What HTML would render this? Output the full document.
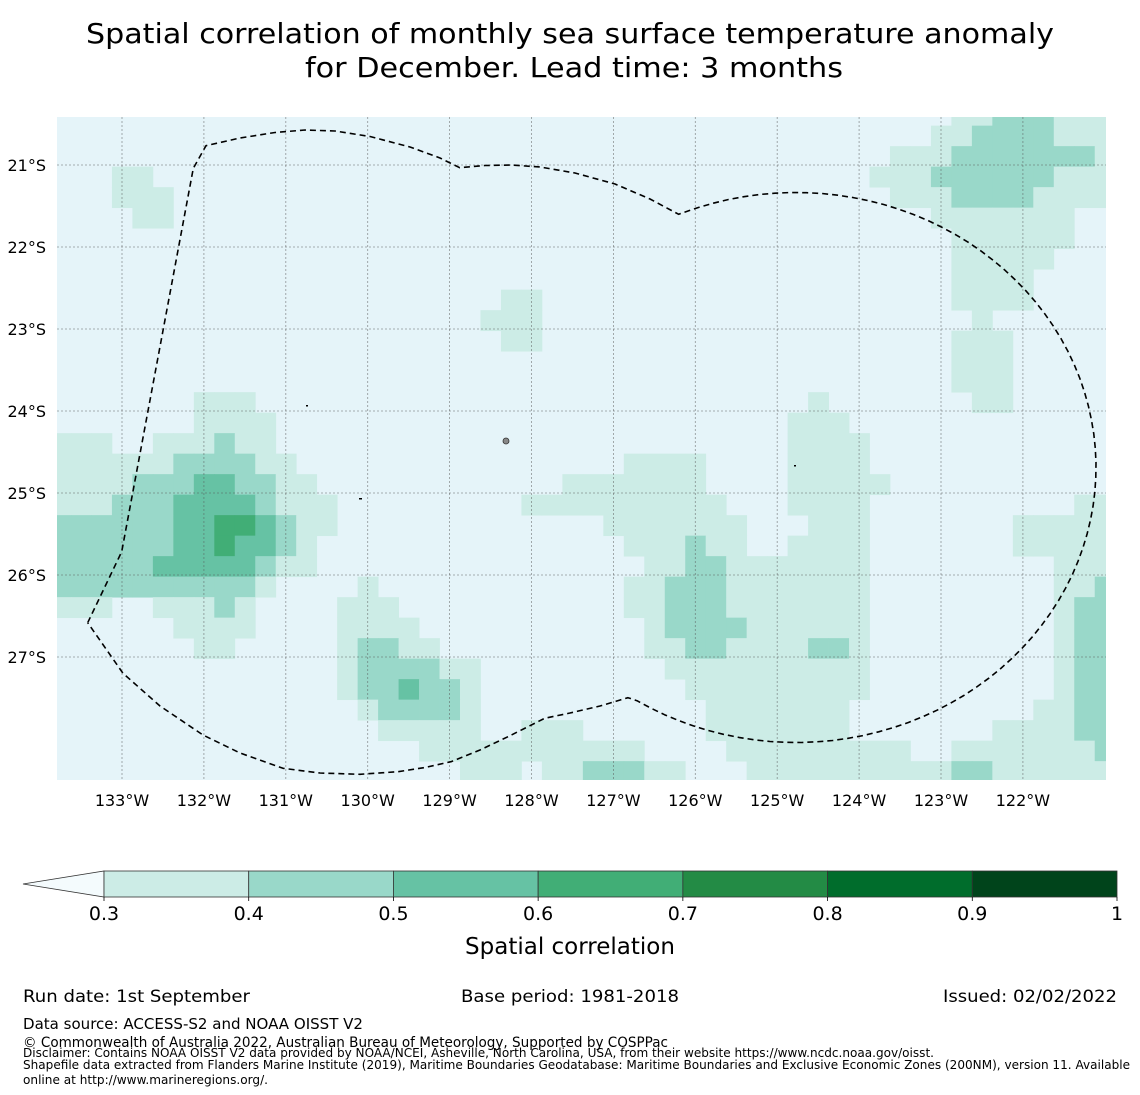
<!DOCTYPE html>
<html><head><meta charset="utf-8"><style>
html,body{margin:0;padding:0;background:#fff;}
svg{display:block;font-family:"DejaVu Sans","Liberation Sans",sans-serif;}
</style></head><body>
<svg id="chart" width="1140" height="1095" viewBox="0 0 1140 1095" xmlns="http://www.w3.org/2000/svg">
<defs><clipPath id="mapclip"><rect x="57" y="117" width="1049" height="663"/></clipPath></defs>
<g>
<text x="570" y="43" text-anchor="middle" font-size="28" textLength="968" lengthAdjust="spacingAndGlyphs">Spatial correlation of monthly sea surface temperature anomaly</text>
<text x="574" y="77" text-anchor="middle" font-size="28" textLength="538" lengthAdjust="spacingAndGlyphs">for December. Lead time: 3 months</text>
</g>
<rect x="57" y="117" width="1049" height="663" fill="#e5f4f9"/>
<g id="cells" clip-path="url(#mapclip)"></g>
<g id="grid"></g>
<g id="islands">
<circle cx="506" cy="441" r="3" fill="#888" stroke="#333" stroke-width="0.8"/>
<rect x="306" y="405" width="2" height="1.5" fill="#000"/>
<rect x="359" y="498" width="3" height="1.5" fill="#000"/>
<rect x="794" y="465" width="2" height="1.5" fill="#000"/>
</g>
<path id="eez" fill="none" stroke="#000" stroke-width="1.6" stroke-dasharray="6,4" stroke-linejoin="round"/>
<g id="xticks"></g>
<g id="yticks"></g>
<g id="colorbar"></g>
<text x="570" y="954" text-anchor="middle" font-size="23">Spatial correlation</text>
<g font-size="17">
<text x="23" y="1002" textLength="227" lengthAdjust="spacingAndGlyphs">Run date: 1st September</text>
<text x="461" y="1002" textLength="218" lengthAdjust="spacingAndGlyphs">Base period: 1981-2018</text>
<text x="1117" y="1002" text-anchor="end" textLength="174" lengthAdjust="spacingAndGlyphs">Issued: 02/02/2022</text>
<text x="23" y="1029" font-size="15" textLength="340" lengthAdjust="spacingAndGlyphs">Data source: ACCESS-S2 and NOAA OISST V2</text>
<text x="23" y="1047" font-size="14" textLength="645" lengthAdjust="spacingAndGlyphs">© Commonwealth of Australia 2022, Australian Bureau of Meteorology, Supported by COSPPac</text>
<text x="23" y="1057" font-size="12" textLength="911" lengthAdjust="spacingAndGlyphs">Disclaimer: Contains NOAA OISST V2 data provided by NOAA/NCEI, Asheville, North Carolina, USA, from their website https://www.ncdc.noaa.gov/oisst.</text>
<text x="23" y="1069" font-size="12" textLength="1107" lengthAdjust="spacingAndGlyphs">Shapefile data extracted from Flanders Marine Institute (2019), Maritime Boundaries Geodatabase: Maritime Boundaries and Exclusive Economic Zones (200NM), version 11. Available</text>
<text x="23" y="1084" font-size="12" textLength="245" lengthAdjust="spacingAndGlyphs">online at http://www.marineregions.org/.</text>
</g>
</svg>
<script>
// Data: runs of cells [row, firstCol, lastCol, level]; level 1=0.3-0.4, 2=0.4-0.5, 3=0.5-0.6, 4=0.6-0.7
const cellRuns = [
[0,44,45,1],[0,46,48,2],[0,49,51,1],
[1,43,44,1],[1,45,48,2],[1,49,51,1],
[2,41,43,1],[2,44,50,2],[2,51,51,1],
[3,3,4,1],[3,40,42,1],[3,43,48,2],[3,49,51,1],
[4,3,5,1],[4,41,43,1],[4,44,47,2],[4,48,51,1],
[5,4,5,1],[5,43,49,1],
[6,44,49,1],[7,44,48,1],[8,44,47,1],
[9,22,23,1],[9,44,47,1],
[10,21,23,1],[10,45,45,1],
[11,22,23,1],[11,44,46,1],
[12,44,46,1],[13,44,46,1],
[14,7,9,1],[14,37,37,1],[14,45,46,1],
[15,7,10,1],[15,36,38,1],
[16,0,2,1],[16,5,7,1],[16,8,8,2],[16,9,10,1],[16,36,39,1],
[17,0,5,1],[17,6,9,2],[17,10,11,1],[17,28,31,1],[17,36,39,1],
[18,0,3,1],[18,4,6,2],[18,7,8,3],[18,9,10,2],[18,11,12,1],[18,25,31,1],[18,36,40,1],
[19,0,2,1],[19,3,5,2],[19,6,9,3],[19,10,10,2],[19,11,13,1],[19,23,32,1],[19,36,39,1],[19,50,51,1],
[20,0,5,2],[20,6,7,3],[20,8,9,4],[20,10,10,3],[20,11,11,2],[20,12,13,1],[20,27,33,1],[20,37,39,1],[20,47,51,1],
[21,0,5,2],[21,6,7,3],[21,8,8,4],[21,9,10,3],[21,11,11,2],[21,12,12,1],[21,28,30,1],[21,31,31,2],[21,32,33,1],[21,36,39,1],[21,47,51,1],
[22,0,4,2],[22,5,9,3],[22,10,10,2],[22,11,12,1],[22,29,30,1],[22,31,32,2],[22,33,39,1],[22,49,51,1],
[23,0,9,2],[23,10,10,1],[23,15,15,1],[23,28,29,1],[23,30,32,2],[23,33,39,1],[23,49,50,1],[23,51,51,2],
[24,0,2,1],[24,5,7,1],[24,8,8,2],[24,9,9,1],[24,14,16,1],[24,28,29,1],[24,30,32,2],[24,33,39,1],[24,49,49,1],[24,50,51,2],
[25,6,9,1],[25,14,17,1],[25,29,29,1],[25,30,33,2],[25,34,39,1],[25,49,49,1],[25,50,51,2],
[26,7,8,1],[26,14,14,1],[26,15,16,2],[26,17,18,1],[26,29,30,1],[26,31,32,2],[26,33,36,1],[26,37,38,2],[26,39,39,1],[26,49,49,1],[26,50,51,2],
[27,14,14,1],[27,15,18,2],[27,19,20,1],[27,30,39,1],[27,49,49,1],[27,50,51,2],
[28,14,14,1],[28,15,16,2],[28,17,17,3],[28,18,19,2],[28,20,20,1],[28,31,39,1],[28,49,49,1],[28,50,51,2],
[29,15,15,1],[29,16,19,2],[29,20,20,1],[29,32,38,1],[29,48,49,1],[29,50,51,2],
[30,16,20,1],[30,23,25,1],[30,32,38,1],[30,46,49,1],[30,50,51,2],
[31,18,28,1],[31,33,41,1],[31,44,50,1],[31,51,51,2],
[32,20,22,1],[32,24,25,1],[32,26,28,2],[32,29,30,1],[32,34,43,1],[32,44,45,2],[32,46,51,1]
];
const levelColors = ["#e5f4f9","#ccece6","#99d8c9","#66c2a4","#41ae76"];
const lonTicks = [133,132,131,130,129,128,127,126,125,124,123,122];
const latTicks = [21,22,23,24,25,26,27];
const cbBounds = [0.3,0.4,0.5,0.6,0.7,0.8,0.9,1.0];
const cbLabels = ["0.3","0.4","0.5","0.6","0.7","0.8","0.9","1"];
const cbColors = ["#ccece6","#99d8c9","#66c2a4","#41ae76","#238b45","#006d2c","#00441b"];

const X0 = 122, XPD = 81.9, Y0 = 165, YPD = 82;
function xOf(lonW){ return X0 + (133 - lonW) * XPD; }
function yOf(latS){ return Y0 + (latS - 21) * YPD; }
function colLon(c){ return 133.873 - 0.25 * c; }
function rowLat(r){ return 20.27 + 0.25 * r; }
const NS = "http://www.w3.org/2000/svg";
function mk(tag, attrs, parent){ const e = document.createElementNS(NS, tag); for (const k in attrs) e.setAttribute(k, attrs[k]); parent.appendChild(e); return e; }

const cellsG = document.getElementById('cells');
cellRuns.forEach(function(run){
  const r = run[0], c0 = run[1], c1 = run[2], lv = run[3];
  for (let c = c0; c <= c1; c++){
    const x1 = xOf(colLon(c)), x2 = xOf(colLon(c + 1));
    const y1 = yOf(rowLat(r)), y2 = yOf(rowLat(r + 1));
    const el = mk('rect', {x: x1.toFixed(2), y: y1.toFixed(2), width: (x2 - x1 + 0.4).toFixed(2), height: (y2 - y1 + 0.4).toFixed(2), fill: levelColors[lv]}, cellsG);
    
    
  }
});

const gridG = document.getElementById('grid');
const xt = document.getElementById('xticks');
lonTicks.forEach(function(L){
  const x = xOf(L);
  const ln = mk('line', {x1: x, x2: x, y1: 117, y2: 780, stroke: '#555', 'stroke-width': 0.8, 'stroke-dasharray': '2,2', 'stroke-opacity': 0.6}, gridG);
  
  
  const t = mk('text', {x: x, y: 806, 'text-anchor': 'middle', 'font-size': 16}, xt);
  t.textContent = L + '°W';
  
  
});
const yt = document.getElementById('yticks');
latTicks.forEach(function(L){
  const y = yOf(L);
  const ln = mk('line', {x1: 57, x2: 1106, y1: y, y2: y, stroke: '#555', 'stroke-width': 0.8, 'stroke-dasharray': '2,2', 'stroke-opacity': 0.6}, gridG);
  
  
  const t = mk('text', {x: 46, y: y + 6, 'text-anchor': 'end', 'font-size': 16}, yt);
  t.textContent = L + '°S';
  
  
});

// EEZ boundary geometry (pixel outline)
let pts = [[87.7,622.7],[121.7,551.7],[193.3,168.3],[206,145.7],[240,138],[275,132.5],[305,130],[335,131],[370,136.5],[410,147],[440,158],[459.7,167.7],[485,165.5],[511,165],[540,167],[575,173],[615,184],[650,199],[678.7,214.3]];
const ecx = 796, ecy = 467.5, erx = 300, ery = 275;
for (let a = -112; a <= 124; a += 3){
  const t = a * Math.PI / 180;
  pts.push([ecx + erx * Math.cos(t), ecy + ery * Math.sin(t)]);
}
pts = pts.concat([[628,697.7],[600,706],[570,713],[544.7,718.3],[508,736.7],[480,750],[451,761.7],[425,767.5],[398,771.7],[360,774.3],[320,773],[283,768.3],[240,753],[203,735],[160,706],[123,673.3],[87.7,622.7]]);
let d = '';
pts.forEach(function(p, i){ d += (i ? ' L' : 'M') + p[0].toFixed(1) + ',' + p[1].toFixed(1); });
document.getElementById('eez').setAttribute('d', d);

const cb = document.getElementById('colorbar');
const CBX0 = 104, CBX1 = 1117, CBY = 871, CBH = 26;
function cbX(v){ return CBX0 + (v - 0.3) / 0.7 * (CBX1 - CBX0); }
const tri = mk('polygon', {points: '23,' + (CBY + CBH / 2) + ' ' + CBX0 + ',' + CBY + ' ' + CBX0 + ',' + (CBY + CBH), fill: '#f4fbfd', stroke: '#333', 'stroke-width': 0.8}, cb);


cbColors.forEach(function(col, i){
  const a = cbX(cbBounds[i]), b = cbX(cbBounds[i + 1]);
  const s = mk('rect', {x: a, y: CBY, width: b - a, height: CBH, fill: col, stroke: '#333', 'stroke-width': 0.8}, cb);
  
  
});
cbLabels.forEach(function(lbl, i){
  const x = cbX(cbBounds[i]);
  const tk = mk('line', {x1: x, x2: x, y1: CBY + CBH, y2: CBY + CBH + 4, stroke: '#000', 'stroke-width': 0.8}, cb);
  
  
  const t = mk('text', {x: x, y: 920, 'text-anchor': 'middle', 'font-size': 19}, cb);
  t.textContent = lbl;
  
  
});
</script>
</body></html>
